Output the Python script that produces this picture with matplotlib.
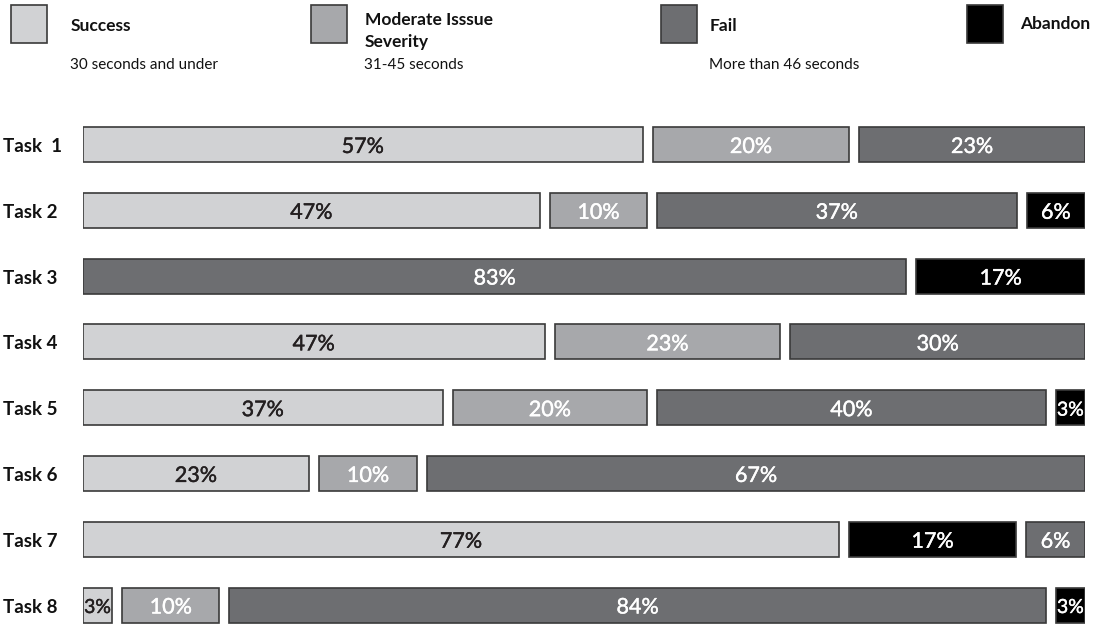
import matplotlib
matplotlib.use("Agg")
import matplotlib.pyplot as plt
from matplotlib.patches import Rectangle
import matplotlib.patheffects as pe

plt.rcParams['font.family'] = ['Lato', 'DejaVu Sans']

# Categories and their legend text
categories = ["Success", "Moderate Isssue\nSeverity", "Fail", "Abandon"]
cat_notes = ["30 seconds and under", "31-45 seconds", "More than 46 seconds", ""]
cat_colors = ["#d1d2d4", "#a7a8ab", "#6d6e71", "#000000"]
cat_text = ["#231f20", "#ffffff", "#ffffff", "#ffffff"]

tasks = ["Task  1", "Task 2", "Task 3", "Task 4", "Task 5", "Task 6", "Task 7", "Task 8"]

# Segments per task, in display order: category index and percentage
task_cats = [
    [0, 1, 2],
    [0, 1, 2, 3],
    [2, 3],
    [0, 1, 2],
    [0, 1, 2, 3],
    [0, 1, 2],
    [0, 3, 2],
    [0, 1, 2, 3],
]
task_values = [
    [57, 20, 23],
    [47, 10, 37, 6],
    [83, 17],
    [47, 23, 30],
    [37, 20, 40, 3],
    [23, 10, 67],
    [77, 17, 6],
    [3, 10, 84, 3],
]

W, H = 1101, 632
fig = plt.figure(figsize=(W / 100, H / 100), dpi=100)

# Bar area
ax = fig.add_axes([83 / W, 0, 1002 / W, 1])
step = 65.8
ax.set_xlim(0, 100)
ax.set_ylim(7 + 27 / step, -144.5 / step)
ax.axis("off")

gap = 1.0  # gap between segments, in percent of row width
bar_h = 35 / step
txt_dy = 2.5 / step

for row, (cats, vals) in enumerate(zip(task_cats, task_values)):
    n = len(vals)
    scale = (100 - gap * (n - 1)) / 100.0
    left = 0.0
    for c, v in zip(cats, vals):
        w = v * scale
        ax.barh(row, w, left=left, height=bar_h, color=cat_colors[c],
                edgecolor="#3a3a3a", linewidth=1.2)
        fs = 15.5 if v >= 5 else 14
        ax.text(left + w / 2, row + txt_dy, f"{v}%", ha="center", va="center",
                fontsize=fs, color=cat_text[c],
                path_effects=[pe.withStroke(linewidth=0.3, foreground=cat_text[c])])
        left += w + gap
    fig.text(3 / W, 1 - (146.5 + row * step) / H, tasks[row], ha="left",
             va="center", fontsize=13.5, fontweight="bold", color="#111111")

# Legend
leg_x = [11, 311, 661, 967]
txt_x = [71, 365, 710, 1020]
for i, cat in enumerate(categories):
    fig.add_artist(Rectangle((leg_x[i] / W, 1 - 43 / H), 36 / W, 38 / H,
                             transform=fig.transFigure, facecolor=cat_colors[i],
                             edgecolor="#3a3a3a", linewidth=1.2))
    ty = 31 if "\n" in cat else 26
    if i == 3:
        ty = 24
    fig.text(txt_x[i] / W, 1 - ty / H, cat, ha="left", va="center",
             fontsize=12.5, fontweight="bold", color="#111111", linespacing=1.45)
    if cat_notes[i]:
        fig.text(txt_x[i] / W - 1 / W, 1 - 65 / H, cat_notes[i], ha="left",
                 va="center", fontsize=11, color="#111111")

fig.savefig("out.png", dpi=100)
